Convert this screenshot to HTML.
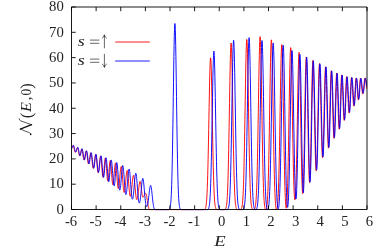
<!DOCTYPE html>
<html><head><meta charset="utf-8"><title>plot</title>
<style>html,body{margin:0;padding:0;background:#fff;width:374px;height:246px;overflow:hidden;font-family:"Liberation Serif",serif}</style>
</head><body>
<svg width="374" height="246" viewBox="0 0 374 246" style="position:absolute;left:0;top:0">
<rect width="374" height="246" fill="#fff"/>
<filter id="idf" x="0" y="0" width="374" height="246" filterUnits="userSpaceOnUse" color-interpolation-filters="sRGB"><feOffset dx="0" dy="0"/></filter>
<clipPath id="c"><rect x="71.5" y="0" width="295.5" height="210.5"/></clipPath>
<g clip-path="url(#c)" fill="none" stroke-width="0.93" stroke-linejoin="round">
<path d="M71.50,148.65 L71.70,148.19 L71.90,147.67 L72.10,147.13 L72.30,146.61 L72.50,146.16 L72.70,145.80 L72.90,145.58 L73.10,145.50 L73.30,145.64 L73.50,146.04 L73.70,146.68 L73.90,147.49 L74.10,148.42 L74.30,149.39 L74.50,150.31 L74.70,151.13 L74.90,151.76 L75.10,152.16 L75.30,152.30 L75.50,152.20 L75.70,151.92 L75.90,151.47 L76.10,150.90 L76.30,150.24 L76.50,149.56 L76.70,148.90 L76.90,148.33 L77.10,147.88 L77.30,147.60 L77.50,147.50 L77.70,147.68 L77.90,148.20 L78.10,149.01 L78.30,150.06 L78.50,151.24 L78.70,152.47 L78.90,153.62 L79.10,154.62 L79.30,155.36 L79.50,155.80 L79.70,155.89 L79.90,155.67 L80.10,155.17 L80.30,154.44 L80.50,153.53 L80.70,152.53 L80.90,151.52 L81.10,150.58 L81.30,149.79 L81.50,149.23 L81.70,148.94 L81.90,148.96 L82.10,149.41 L82.30,150.27 L82.50,151.48 L82.70,152.93 L82.90,154.50 L83.10,156.08 L83.30,157.53 L83.50,158.73 L83.70,159.59 L83.90,160.04 L84.10,160.05 L84.30,159.68 L84.50,158.98 L84.70,157.99 L84.90,156.80 L85.10,155.50 L85.30,154.21 L85.50,153.02 L85.70,152.03 L85.90,151.32 L86.10,150.95 L86.30,150.96 L86.50,151.44 L86.70,152.37 L86.90,153.68 L87.10,155.27 L87.30,157.01 L87.50,158.79 L87.70,160.47 L87.90,161.93 L88.10,163.05 L88.30,163.76 L88.50,164.00 L88.70,163.79 L88.90,163.19 L89.10,162.23 L89.30,160.98 L89.50,159.55 L89.70,158.03 L89.90,156.53 L90.10,155.18 L90.30,154.06 L90.50,153.26 L90.70,152.85 L90.90,152.86 L91.10,153.37 L91.30,154.36 L91.50,155.75 L91.70,157.47 L91.90,159.38 L92.10,161.38 L92.30,163.32 L92.50,165.08 L92.70,166.55 L92.90,167.63 L93.10,168.26 L93.30,168.39 L93.50,168.05 L93.70,167.28 L93.90,166.14 L94.10,164.68 L94.30,163.02 L94.50,161.25 L94.70,159.50 L94.90,157.87 L95.10,156.47 L95.30,155.40 L95.50,154.73 L95.70,154.50 L95.90,154.79 L96.10,155.66 L96.30,157.04 L96.50,158.84 L96.70,160.95 L96.90,163.22 L97.10,165.52 L97.30,167.69 L97.50,169.60 L97.70,171.12 L97.90,172.17 L98.10,172.66 L98.30,172.59 L98.50,171.99 L98.70,170.90 L98.90,169.40 L99.10,167.56 L99.30,165.53 L99.50,163.41 L99.70,161.35 L99.90,159.49 L100.10,157.93 L100.30,156.79 L100.50,156.14 L100.70,156.03 L100.90,156.62 L101.10,157.91 L101.30,159.83 L101.50,162.22 L101.70,164.93 L101.90,167.75 L102.10,170.50 L102.30,172.97 L102.50,175.00 L102.70,176.44 L102.90,177.20 L103.10,177.22 L103.30,176.56 L103.50,175.27 L103.70,173.45 L103.90,171.21 L104.10,168.72 L104.30,166.15 L104.50,163.69 L104.70,161.50 L104.90,159.74 L105.10,158.54 L105.30,157.99 L105.50,158.13 L105.70,159.02 L105.90,160.60 L106.10,162.76 L106.30,165.36 L106.50,168.24 L106.70,171.19 L106.90,174.04 L107.10,176.59 L107.30,178.68 L107.50,180.18 L107.70,180.98 L107.90,181.06 L108.10,180.45 L108.30,179.21 L108.50,177.43 L108.70,175.21 L108.90,172.70 L109.10,170.06 L109.30,167.46 L109.50,165.07 L109.70,163.06 L109.90,161.55 L110.10,160.64 L110.30,160.39 L110.50,160.85 L110.70,162.01 L110.90,163.79 L111.10,166.08 L111.30,168.76 L111.50,171.65 L111.70,174.60 L111.90,177.42 L112.10,179.96 L112.30,182.07 L112.50,183.63 L112.70,184.56 L112.90,184.80 L113.10,184.39 L113.30,183.37 L113.50,181.81 L113.70,179.79 L113.90,177.42 L114.10,174.85 L114.30,172.22 L114.50,169.69 L114.70,167.39 L114.90,165.48 L115.10,164.06 L115.30,163.23 L115.50,163.02 L115.70,163.45 L115.90,164.49 L116.10,166.08 L116.30,168.14 L116.50,170.56 L116.70,173.23 L116.90,176.01 L117.10,178.76 L117.30,181.36 L117.50,183.70 L117.70,185.65 L117.90,187.15 L118.10,188.13 L118.30,188.54 L118.50,188.40 L118.70,187.76 L118.90,186.65 L119.10,185.12 L119.30,183.23 L119.50,181.06 L119.70,178.73 L119.90,176.32 L120.10,173.96 L120.30,171.76 L120.50,169.83 L120.70,168.27 L120.90,167.17 L121.10,166.57 L121.30,166.51 L121.50,167.06 L121.70,168.18 L121.90,169.82 L122.10,171.91 L122.30,174.33 L122.50,176.97 L122.70,179.71 L122.90,182.43 L123.10,185.00 L123.30,187.31 L123.50,189.28 L123.70,190.82 L123.90,191.88 L124.10,192.41 L124.30,192.41 L124.50,191.93 L124.70,191.02 L124.90,189.69 L125.10,188.01 L125.30,186.03 L125.50,183.85 L125.70,181.55 L125.90,179.23 L126.10,177.00 L126.30,174.96 L126.50,173.21 L126.70,171.84 L126.90,170.91 L127.10,170.48 L127.30,170.57 L127.50,171.21 L127.70,172.36 L127.90,173.98 L128.10,175.99 L128.30,178.29 L128.50,180.78 L128.70,183.35 L128.90,185.90 L129.10,188.34 L129.30,190.56 L129.50,192.50 L129.70,194.10 L129.90,195.29 L130.10,196.05 L130.30,196.35 L130.50,196.22 L130.70,195.71 L130.90,194.85 L131.10,193.65 L131.30,192.15 L131.50,190.41 L131.70,188.47 L131.90,186.42 L132.10,184.32 L132.30,182.26 L132.50,180.34 L132.70,178.63 L132.90,177.21 L133.10,176.15 L133.30,175.50 L133.50,175.29 L133.70,175.55 L133.90,176.30 L134.10,177.49 L134.30,179.07 L134.50,180.96 L134.70,183.09 L134.90,185.36 L135.10,187.69 L135.30,189.98 L135.50,192.15 L135.70,194.14 L135.90,195.87 L136.10,197.32 L136.30,198.43 L136.50,199.18 L136.70,199.56 L136.90,199.56 L137.10,199.27 L137.30,198.69 L137.50,197.85 L137.70,196.75 L137.90,195.43 L138.10,193.93 L138.30,192.29 L138.50,190.57 L138.70,188.82 L138.90,187.11 L139.10,185.51 L139.30,184.09 L139.50,182.92 L139.70,182.03 L139.90,181.49 L140.10,181.30 L140.30,181.51 L140.50,182.12 L140.70,183.09 L140.90,184.39 L141.10,185.93 L141.30,187.64 L141.50,189.43 L141.70,191.20 L141.90,192.87 L142.10,194.37 L142.30,195.60 L142.50,196.53 L142.70,197.11 L142.90,197.30 L143.10,197.25 L143.30,197.11 L143.50,196.88 L143.70,196.57 L143.90,196.19 L144.10,195.78 L144.30,195.33 L144.50,194.89 L144.70,194.46 L144.90,194.07 L145.10,193.75 L145.30,193.50 L145.50,193.35 L145.70,193.30 L145.90,193.44 L146.10,193.86 L146.30,194.53 L146.50,195.42 L146.70,196.50 L146.90,197.72 L147.10,199.04 L147.30,200.39 L147.50,201.75 L147.70,203.06 L147.90,204.30 L148.10,205.43 L148.30,206.44 L148.50,207.31 L148.70,208.09 L148.90,208.73 L149.10,209.21 L149.30,209.52 L149.50,209.68 L149.70,209.70 L149.90,209.70 L150.10,209.70 L150.30,209.70 L150.50,209.70 L150.70,209.70 L150.90,209.70 L151.10,209.70 L151.30,209.70 L151.50,209.70 L151.70,209.70 L151.90,209.70 L152.10,209.70 L152.30,209.70 L152.50,209.70 L152.70,209.70 L152.90,209.70 L153.10,209.70 L153.30,209.70 L153.50,209.70 L153.70,209.70 L153.90,209.70 L154.10,209.70 L154.30,209.70 L154.50,209.70 L154.70,209.70 L154.90,209.70 L155.10,209.70 L155.30,209.70 L155.50,209.70 L155.70,209.70 L155.90,209.70 L156.10,209.70 L156.30,209.70 L156.50,209.70 L156.70,209.70 L156.90,209.70 L157.10,209.70 L157.30,209.70 L157.50,209.70 L157.70,209.70 L157.90,209.70 L158.10,209.70 L158.30,209.70 L158.50,209.70 L158.70,209.70 L158.90,209.70 L159.10,209.70 L159.30,209.70 L159.50,209.70 L159.70,209.70 L159.90,209.70 L160.10,209.70 L160.30,209.70 L160.50,209.70 L160.70,209.70 L160.90,209.70 L161.10,209.70 L161.30,209.70 L161.50,209.70 L161.70,209.70 L161.90,209.70 L162.10,209.70 L162.30,209.70 L162.50,209.70 L162.70,209.70 L162.90,209.70 L163.10,209.70 L163.30,209.70 L163.50,209.70 L163.70,209.70 L163.90,209.70 L164.10,209.70 L164.30,209.70 L164.50,209.70 L164.70,209.70 L164.90,209.70 L165.10,209.70 L165.30,209.70 L165.50,209.70 L165.70,209.70 L165.90,209.70 L166.10,209.70 L166.30,209.70 L166.50,209.70 L166.70,209.70 L166.90,209.70 L167.10,209.70 L167.30,209.70 L167.50,209.70 L167.70,209.70 L167.90,209.70 L168.10,209.70 L168.30,209.70 L168.50,209.70 L168.70,209.70 L168.90,209.70 L169.10,209.70 L169.30,209.70 L169.50,209.70 L169.70,209.70 L169.90,209.70 L170.10,209.70 L170.30,209.70 L170.50,209.70 L170.70,209.70 L170.90,209.70 L171.10,209.70 L171.30,209.70 L171.50,209.70 L171.70,209.70 L171.90,209.70 L172.10,209.70 L172.30,209.70 L172.50,209.70 L172.70,209.70 L172.90,209.70 L173.10,209.70 L173.30,209.70 L173.50,209.70 L173.70,209.70 L173.90,209.70 L174.10,209.70 L174.30,209.70 L174.50,209.70 L174.70,209.70 L174.90,209.70 L175.10,209.70 L175.30,209.70 L175.50,209.70 L175.70,209.70 L175.90,209.70 L176.10,209.70 L176.30,209.70 L176.50,209.70 L176.70,209.70 L176.90,209.70 L177.10,209.70 L177.30,209.70 L177.50,209.70 L177.70,209.70 L177.90,209.70 L178.10,209.70 L178.30,209.70 L178.50,209.70 L178.70,209.70 L178.90,209.70 L179.10,209.70 L179.30,209.70 L179.50,209.70 L179.70,209.70 L179.90,209.70 L180.10,209.70 L180.30,209.70 L180.50,209.70 L180.70,209.70 L180.90,209.70 L181.10,209.70 L181.30,209.70 L181.50,209.70 L181.70,209.70 L181.90,209.70 L182.10,209.70 L182.30,209.70 L182.50,209.70 L182.70,209.70 L182.90,209.70 L183.10,209.70 L183.30,209.70 L183.50,209.70 L183.70,209.70 L183.90,209.70 L184.10,209.70 L184.30,209.70 L184.50,209.70 L184.70,209.70 L184.90,209.70 L185.10,209.70 L185.30,209.70 L185.50,209.70 L185.70,209.70 L185.90,209.70 L186.10,209.70 L186.30,209.70 L186.50,209.70 L186.70,209.70 L186.90,209.70 L187.10,209.70 L187.30,209.70 L187.50,209.70 L187.70,209.70 L187.90,209.70 L188.10,209.70 L188.30,209.70 L188.50,209.70 L188.70,209.70 L188.90,209.70 L189.10,209.70 L189.30,209.70 L189.50,209.70 L189.70,209.70 L189.90,209.70 L190.10,209.70 L190.30,209.70 L190.50,209.70 L190.70,209.70 L190.90,209.70 L191.10,209.70 L191.30,209.70 L191.50,209.70 L191.70,209.70 L191.90,209.70 L192.10,209.70 L192.30,209.70 L192.50,209.70 L192.70,209.70 L192.90,209.70 L193.10,209.70 L193.30,209.70 L193.50,209.70 L193.70,209.70 L193.90,209.70 L194.10,209.70 L194.30,209.70 L194.50,209.70 L194.70,209.70 L194.90,209.70 L195.10,209.70 L195.30,209.70 L195.50,209.70 L195.70,209.70 L195.90,209.70 L196.10,209.70 L196.30,209.70 L196.50,209.70 L196.70,209.70 L196.90,209.70 L197.10,209.70 L197.30,209.70 L197.50,209.70 L197.70,209.70 L197.90,209.70 L198.10,209.70 L198.30,209.70 L198.50,209.70 L198.70,209.70 L198.90,209.70 L199.10,209.70 L199.30,209.70 L199.50,209.70 L199.70,209.70 L199.90,209.70 L200.10,209.70 L200.30,209.70 L200.50,209.70 L200.70,209.70 L200.90,209.70 L201.10,209.70 L201.30,209.70 L201.50,209.70 L201.70,209.70 L201.90,209.70 L202.10,209.70 L202.30,209.70 L202.50,209.70 L202.70,209.70 L202.90,209.70 L203.10,209.69 L203.30,209.69 L203.50,209.68 L203.70,209.66 L203.90,209.64 L204.10,209.61 L204.30,209.55 L204.50,209.47 L204.70,209.35 L204.90,209.17 L205.10,208.91 L205.30,208.55 L205.50,208.03 L205.70,207.34 L205.90,206.47 L206.10,205.30 L206.30,203.76 L206.50,201.77 L206.70,199.24 L206.90,196.06 L207.10,192.16 L207.30,187.44 L207.50,181.82 L207.70,175.26 L207.90,167.75 L208.10,159.30 L208.30,149.99 L208.50,139.96 L208.70,129.37 L208.90,118.46 L209.10,107.54 L209.30,96.90 L209.50,86.91 L209.70,77.91 L209.90,70.23 L210.10,64.18 L210.30,60.00 L210.50,57.87 L210.70,57.87 L210.90,60.00 L211.10,64.18 L211.30,70.23 L211.50,77.91 L211.70,86.91 L211.90,96.90 L212.10,107.54 L212.30,118.46 L212.50,129.37 L212.70,139.96 L212.90,149.99 L213.10,159.30 L213.30,167.75 L213.50,175.26 L213.70,181.82 L213.90,187.43 L214.10,192.16 L214.30,196.06 L214.50,199.24 L214.70,201.77 L214.90,203.76 L215.10,205.30 L215.30,206.47 L215.50,207.34 L215.70,208.03 L215.90,208.55 L216.10,208.91 L216.30,209.17 L216.50,209.35 L216.70,209.47 L216.90,209.55 L217.10,209.61 L217.30,209.64 L217.50,209.66 L217.70,209.68 L217.90,209.69 L218.10,209.69 L218.30,209.70 L218.50,209.70 L218.70,209.70 L218.90,209.70 L219.10,209.70 L219.30,209.70 L219.50,209.70 L219.70,209.70 L219.90,209.70 L220.10,209.70 L220.30,209.70 L220.50,209.70 L220.70,209.70 L220.90,209.70 L221.10,209.70 L221.30,209.70 L221.50,209.70 L221.70,209.70 L221.90,209.70 L222.10,209.70 L222.30,209.70 L222.50,209.70 L222.70,209.70 L222.90,209.70 L223.10,209.70 L223.30,209.70 L223.50,209.69 L223.70,209.69 L223.90,209.68 L224.10,209.67 L224.30,209.65 L224.50,209.62 L224.70,209.57 L224.90,209.50 L225.10,209.39 L225.30,209.23 L225.50,208.99 L225.70,208.65 L225.90,208.18 L226.10,207.52 L226.30,206.69 L226.50,205.58 L226.70,204.11 L226.90,202.18 L227.10,199.72 L227.30,196.60 L227.50,192.74 L227.70,188.02 L227.90,182.36 L228.10,175.70 L228.30,167.98 L228.50,159.23 L228.70,149.49 L228.90,138.86 L229.10,127.53 L229.30,115.71 L229.50,103.71 L229.70,91.84 L229.90,80.49 L230.10,70.03 L230.30,60.85 L230.50,53.29 L230.70,47.65 L230.90,44.18 L231.10,43.00 L231.30,44.18 L231.50,47.65 L231.70,53.29 L231.90,60.85 L232.10,70.03 L232.30,80.49 L232.50,91.84 L232.70,103.71 L232.90,115.72 L233.10,127.53 L233.30,138.87 L233.50,149.49 L233.70,159.23 L233.90,167.99 L234.10,175.70 L234.30,182.37 L234.50,188.03 L234.70,192.74 L234.90,196.61 L235.10,199.72 L235.30,202.19 L235.50,204.11 L235.70,205.58 L235.90,206.70 L236.10,207.52 L236.30,208.18 L236.50,208.66 L236.70,209.00 L236.90,209.23 L237.10,209.40 L237.30,209.50 L237.50,209.58 L237.70,209.63 L237.90,209.66 L238.10,209.68 L238.30,209.69 L238.50,209.69 L238.70,209.70 L238.90,209.70 L239.10,209.70 L239.30,209.70 L239.50,209.69 L239.70,209.68 L239.90,209.67 L240.10,209.64 L240.30,209.60 L240.50,209.54 L240.70,209.45 L240.90,209.31 L241.10,209.11 L241.30,208.83 L241.50,208.41 L241.70,207.84 L241.90,207.09 L242.10,206.10 L242.30,204.79 L242.50,203.07 L242.70,200.84 L242.90,198.00 L243.10,194.44 L243.30,190.06 L243.50,184.77 L243.70,178.47 L243.90,171.12 L244.10,162.69 L244.30,153.22 L244.50,142.79 L244.70,131.53 L244.90,119.66 L245.10,107.44 L245.30,95.19 L245.50,83.26 L245.70,72.06 L245.90,61.97 L246.10,53.36 L246.30,46.58 L246.50,41.89 L246.70,39.50 L246.90,39.50 L247.10,41.90 L247.30,46.58 L247.50,53.37 L247.70,61.98 L247.90,72.08 L248.10,83.30 L248.30,95.23 L248.50,107.49 L248.70,119.72 L248.90,131.60 L249.10,142.87 L249.30,153.31 L249.50,162.79 L249.70,171.22 L249.90,178.58 L250.10,184.88 L250.30,190.18 L250.50,194.56 L250.70,198.12 L250.90,200.96 L251.10,203.19 L251.30,204.92 L251.50,206.23 L251.70,207.21 L251.90,207.98 L252.10,208.55 L252.30,208.96 L252.50,209.25 L252.70,209.44 L252.90,209.57 L253.10,209.65 L253.30,209.69 L253.50,209.70 L253.70,209.68 L253.90,209.62 L254.10,209.51 L254.30,209.35 L254.50,209.11 L254.70,208.76 L254.90,208.27 L255.10,207.58 L255.30,206.72 L255.50,205.56 L255.70,204.03 L255.90,202.04 L256.10,199.48 L256.30,196.24 L256.50,192.23 L256.70,187.33 L256.90,181.45 L257.10,174.53 L257.30,166.51 L257.50,157.42 L257.70,147.30 L257.90,136.27 L258.10,124.50 L258.30,112.23 L258.50,99.75 L258.70,87.43 L258.90,75.64 L259.10,64.78 L259.30,55.24 L259.50,47.38 L259.70,41.53 L259.90,37.92 L260.10,36.70 L260.30,37.93 L260.50,41.56 L260.70,47.45 L260.90,55.35 L261.10,64.95 L261.30,75.88 L261.50,87.75 L261.70,100.15 L261.90,112.70 L262.10,125.04 L262.30,136.89 L262.50,147.99 L262.70,158.18 L262.90,167.33 L263.10,175.39 L263.30,182.35 L263.50,188.27 L263.70,193.19 L263.90,197.23 L264.10,200.48 L264.30,203.05 L264.50,205.04 L264.70,206.56 L264.90,207.70 L265.10,208.59 L265.30,209.19 L265.50,209.55 L265.70,209.69 L265.90,209.65 L266.10,209.40 L266.30,208.93 L266.50,208.21 L266.70,207.20 L266.90,205.92 L267.10,204.20 L267.30,201.97 L267.50,199.13 L267.70,195.56 L267.90,191.16 L268.10,185.84 L268.30,179.52 L268.50,172.13 L268.70,163.67 L268.90,154.15 L269.10,143.67 L269.30,132.36 L269.50,120.44 L269.70,108.16 L269.90,95.85 L270.10,83.87 L270.30,72.61 L270.50,62.47 L270.70,53.83 L270.90,47.01 L271.10,42.31 L271.30,39.90 L271.50,39.91 L271.70,42.33 L271.90,47.08 L272.10,53.97 L272.30,62.70 L272.50,72.93 L272.70,84.30 L272.90,96.40 L273.10,108.83 L273.30,121.23 L273.50,133.27 L273.70,144.69 L273.90,155.27 L274.10,164.88 L274.30,173.42 L274.50,180.87 L274.70,187.25 L274.90,192.61 L275.10,197.03 L275.30,200.60 L275.50,203.43 L275.70,205.60 L275.90,207.23 L276.10,208.46 L276.30,209.26 L276.50,209.65 L276.70,209.65 L276.90,209.28 L277.10,208.50 L277.30,207.29 L277.50,205.71 L277.70,203.60 L277.90,200.85 L278.10,197.38 L278.30,193.09 L278.50,187.88 L278.70,181.68 L278.90,174.44 L279.10,166.14 L279.30,156.80 L279.50,146.52 L279.70,135.42 L279.90,123.72 L280.10,111.67 L280.30,99.59 L280.50,87.84 L280.70,76.79 L280.90,66.84 L281.10,58.36 L281.30,51.67 L281.50,47.06 L281.70,44.70 L281.90,44.71 L282.10,47.16 L282.30,51.95 L282.50,58.89 L282.70,67.69 L282.90,78.01 L283.10,89.47 L283.30,101.67 L283.50,114.20 L283.70,126.69 L283.90,138.82 L284.10,150.30 L284.30,160.93 L284.50,170.55 L284.70,179.07 L284.90,186.44 L285.10,192.65 L285.30,197.75 L285.50,201.78 L285.70,204.79 L285.90,206.83 L286.10,207.99 L286.30,208.24 L286.50,207.52 L286.70,205.97 L286.90,203.50 L287.10,200.06 L287.30,195.59 L287.50,190.05 L287.70,183.39 L287.90,175.60 L288.10,166.70 L288.30,156.76 L288.50,145.90 L288.70,134.29 L288.90,122.18 L289.10,109.87 L289.30,97.71 L289.50,86.06 L289.70,75.33 L289.90,65.91 L290.10,58.15 L290.30,52.37 L290.50,48.81 L290.70,47.60 L290.90,48.78 L291.10,52.27 L291.30,57.91 L291.50,65.49 L291.70,74.70 L291.90,85.18 L292.10,96.55 L292.30,108.43 L292.50,120.45 L292.70,132.25 L292.90,143.55 L293.10,154.10 L293.30,163.73 L293.50,172.29 L293.70,179.72 L293.90,185.97 L294.10,191.04 L294.30,194.95 L294.50,197.71 L294.70,199.35 L294.90,199.90 L295.10,199.37 L295.30,197.78 L295.50,195.10 L295.70,191.31 L295.90,186.40 L296.10,180.34 L296.30,173.14 L296.50,164.84 L296.70,155.52 L296.90,145.29 L297.10,134.34 L297.30,122.90 L297.50,111.26 L297.70,99.74 L297.90,88.72 L298.10,78.56 L298.30,69.64 L298.50,62.30 L298.70,56.82 L298.90,53.44 L299.10,52.30 L299.30,53.54 L299.50,57.22 L299.70,63.18 L299.90,71.17 L300.10,80.86 L300.30,91.86 L300.50,103.77 L300.70,116.14 L300.90,128.57 L301.10,140.66 L301.30,152.06 L301.50,162.47 L301.70,171.64 L301.90,179.38 L302.10,185.53 L302.30,189.99 L302.50,192.69 L302.70,193.60 L302.90,192.72 L303.10,190.11 L303.30,185.80 L303.50,179.85 L303.70,172.37 L303.90,163.51 L304.10,153.44 L304.30,142.42 L304.50,130.73 L304.70,118.72 L304.90,106.75 L305.10,95.24 L305.30,84.61 L305.50,75.24 L305.70,67.52 L305.90,61.76 L306.10,58.20 L306.30,57.00 L306.50,58.23 L306.70,61.88 L306.90,67.78 L307.10,75.67 L307.30,85.22 L307.50,96.02 L307.70,107.63 L307.90,119.61 L308.10,131.51 L308.30,142.89 L308.50,153.38 L308.70,162.64 L308.90,170.38 L309.10,176.38 L309.30,180.47 L309.50,182.54 L309.70,182.55 L309.90,180.53 L310.10,176.55 L310.30,170.72 L310.50,163.20 L310.70,154.20 L310.90,144.00 L311.10,132.93 L311.30,121.37 L311.50,109.73 L311.70,98.43 L311.90,87.93 L312.10,78.65 L312.30,70.98 L312.50,65.25 L312.70,61.70 L312.90,60.50 L313.10,61.58 L313.30,64.79 L313.50,69.97 L313.70,76.90 L313.90,85.29 L314.10,94.77 L314.30,104.98 L314.50,115.50 L314.70,125.95 L314.90,135.95 L315.10,145.16 L315.30,153.29 L315.50,160.09 L315.70,165.36 L315.90,168.95 L316.10,170.77 L316.30,170.78 L316.50,169.01 L316.70,165.52 L316.90,160.39 L317.10,153.79 L317.30,145.88 L317.50,136.93 L317.70,127.21 L317.90,117.06 L318.10,106.83 L318.30,96.91 L318.50,87.69 L318.70,79.54 L318.90,72.80 L319.10,67.77 L319.30,64.65 L319.50,63.60 L319.70,64.64 L319.90,67.71 L320.10,72.67 L320.30,79.27 L320.50,87.23 L320.70,96.17 L320.90,105.69 L321.10,115.38 L321.30,124.84 L321.50,133.66 L321.70,141.49 L321.90,148.04 L322.10,153.04 L322.30,156.32 L322.50,157.74 L322.70,157.28 L322.90,155.00 L323.10,150.97 L323.30,145.35 L323.50,138.36 L323.70,130.26 L323.90,121.36 L324.10,112.05 L324.30,102.69 L324.50,93.71 L324.70,85.48 L324.90,78.39 L325.10,72.76 L325.30,68.85 L325.50,66.85 L325.70,66.85 L325.90,68.86 L326.10,72.77 L326.30,78.39 L326.50,85.42 L326.70,93.51 L326.90,102.26 L327.10,111.24 L327.30,120.01 L327.50,128.16 L327.70,135.29 L327.90,141.08 L328.10,145.27 L328.30,147.66 L328.50,148.14 L328.70,146.77 L328.90,143.63 L329.10,138.87 L329.30,132.69 L329.50,125.39 L329.70,117.31 L329.90,108.83 L330.10,100.36 L330.30,92.31 L330.50,85.09 L330.70,79.04 L330.90,74.49 L331.10,71.66 L331.30,70.70 L331.50,71.63 L331.70,74.35 L331.90,78.72 L332.10,84.50 L332.30,91.36 L332.50,98.93 L332.70,106.79 L332.90,114.52 L333.10,121.71 L333.30,127.98 L333.50,132.99 L333.70,136.48 L333.90,138.27 L334.10,138.28 L334.30,136.55 L334.50,133.18 L334.70,128.35 L334.90,122.31 L335.10,115.37 L335.30,107.91 L335.50,100.33 L335.70,93.03 L335.90,86.41 L336.10,80.84 L336.30,76.62 L336.50,73.99 L336.70,73.10 L336.90,73.99 L337.10,76.60 L337.30,80.76 L337.50,86.22 L337.70,92.61 L337.90,99.55 L338.10,106.59 L338.30,113.29 L338.50,119.24 L338.70,124.05 L338.90,127.43 L339.10,129.18 L339.30,129.19 L339.50,127.50 L339.70,124.22 L339.90,119.56 L340.10,113.81 L340.30,107.32 L340.50,100.51 L340.70,93.79 L340.90,87.60 L341.10,82.32 L341.30,78.29 L341.50,75.76 L341.70,74.90 L341.90,75.62 L342.10,77.74 L342.30,81.12 L342.50,85.55 L342.70,90.74 L342.90,96.37 L343.10,102.09 L343.30,107.53 L343.50,112.35 L343.70,116.26 L343.90,119.00 L344.10,120.42 L344.30,120.43 L344.50,119.06 L344.70,116.42 L344.90,112.66 L345.10,108.01 L345.30,102.78 L345.50,97.27 L345.70,91.85 L345.90,86.85 L346.10,82.59 L346.30,79.33 L346.50,77.29 L346.70,76.60 L346.90,77.22 L347.10,79.05 L347.30,81.96 L347.50,85.74 L347.70,90.15 L347.90,94.88 L348.10,99.60 L348.30,103.99 L348.50,107.77 L348.70,110.66 L348.90,112.48 L349.10,113.10 L349.30,112.49 L349.50,110.71 L349.70,107.88 L349.90,104.19 L350.10,99.89 L350.30,95.28 L350.50,90.65 L350.70,86.34 L350.90,82.64 L351.10,79.80 L351.30,78.01 L351.50,77.40 L351.70,77.91 L351.90,79.41 L352.10,81.80 L352.30,84.89 L352.50,88.48 L352.70,92.30 L352.90,96.08 L353.10,99.56 L353.30,102.49 L353.50,104.66 L353.70,105.91 L353.90,106.17 L354.10,105.42 L354.30,103.72 L354.50,101.19 L354.70,98.02 L354.90,94.42 L355.10,90.65 L355.30,86.98 L355.50,83.67 L355.70,80.95 L355.90,79.03 L356.10,78.03 L356.30,78.02 L356.50,78.95 L356.70,80.73 L356.90,83.22 L357.10,86.19 L357.30,89.41 L357.50,92.59 L357.70,95.46 L357.90,97.79 L358.10,99.37 L358.30,100.07 L358.50,99.84 L358.70,98.69 L358.90,96.74 L359.10,94.13 L359.30,91.10 L359.50,87.90 L359.70,84.80 L359.90,82.07 L360.10,79.93 L360.30,78.57 L360.50,78.10 L360.70,78.41 L360.90,79.32 L361.10,80.75 L361.30,82.60 L361.50,84.71 L361.70,86.94 L361.90,89.10 L362.10,91.03 L362.30,92.57 L362.50,93.62 L362.70,94.08 L362.90,93.92 L363.10,93.15 L363.30,91.83 L363.50,90.05 L363.70,87.96 L363.90,85.72 L364.10,83.50 L364.30,81.47 L364.50,79.80 L364.70,78.60 L364.90,77.98 L365.10,77.96 L365.30,78.44 L365.50,79.36 L365.70,80.63 L365.90,82.16 L366.10,83.81 L366.30,85.44 L366.50,86.92 L366.70,88.11 L366.90,88.92" stroke="#f00"/>
<path d="M71.50,148.93 L71.70,148.64 L71.90,148.23 L72.10,147.74 L72.30,147.20 L72.50,146.67 L72.70,146.17 L72.90,145.76 L73.10,145.47 L73.30,145.32 L73.50,145.33 L73.70,145.58 L73.90,146.06 L74.10,146.74 L74.30,147.57 L74.50,148.47 L74.70,149.40 L74.90,150.27 L75.10,151.02 L75.30,151.61 L75.50,151.97 L75.70,152.10 L75.90,151.99 L76.10,151.68 L76.30,151.20 L76.50,150.58 L76.70,149.88 L76.90,149.17 L77.10,148.50 L77.30,147.94 L77.50,147.54 L77.70,147.33 L77.90,147.34 L78.10,147.68 L78.30,148.33 L78.50,149.23 L78.70,150.32 L78.90,151.50 L79.10,152.69 L79.30,153.77 L79.50,154.68 L79.70,155.32 L79.90,155.66 L80.10,155.66 L80.30,155.35 L80.50,154.77 L80.70,153.95 L80.90,152.98 L81.10,151.94 L81.30,150.92 L81.50,150.02 L81.70,149.31 L81.90,148.86 L82.10,148.70 L82.30,148.91 L82.50,149.52 L82.70,150.48 L82.90,151.73 L83.10,153.17 L83.30,154.69 L83.50,156.18 L83.70,157.54 L83.90,158.65 L84.10,159.44 L84.30,159.85 L84.50,159.85 L84.70,159.44 L84.90,158.67 L85.10,157.60 L85.30,156.33 L85.50,154.96 L85.70,153.62 L85.90,152.43 L86.10,151.50 L86.30,150.90 L86.50,150.70 L86.70,150.91 L86.90,151.52 L87.10,152.49 L87.30,153.76 L87.50,155.25 L87.70,156.87 L87.90,158.51 L88.10,160.06 L88.30,161.44 L88.50,162.56 L88.70,163.34 L88.90,163.75 L89.10,163.74 L89.30,163.25 L89.50,162.31 L89.70,161.00 L89.90,159.45 L90.10,157.78 L90.30,156.16 L90.50,154.71 L90.70,153.57 L90.90,152.85 L91.10,152.60 L91.30,152.83 L91.50,153.51 L91.70,154.59 L91.90,156.01 L92.10,157.68 L92.30,159.52 L92.50,161.40 L92.70,163.22 L92.90,164.87 L93.10,166.26 L93.30,167.32 L93.50,167.98 L93.70,168.20 L93.90,167.94 L94.10,167.19 L94.30,166.00 L94.50,164.46 L94.70,162.67 L94.90,160.79 L95.10,158.93 L95.30,157.25 L95.50,155.86 L95.70,154.88 L95.90,154.36 L96.10,154.38 L96.30,155.00 L96.50,156.19 L96.70,157.88 L96.90,159.94 L97.10,162.24 L97.30,164.61 L97.50,166.90 L97.70,168.96 L97.90,170.63 L98.10,171.81 L98.30,172.42 L98.50,172.44 L98.70,171.97 L98.90,171.04 L99.10,169.72 L99.30,168.08 L99.50,166.21 L99.70,164.21 L99.90,162.21 L100.10,160.32 L100.30,158.65 L100.50,157.30 L100.70,156.35 L100.90,155.86 L101.10,155.89 L101.30,156.57 L101.50,157.88 L101.70,159.75 L101.90,162.04 L102.10,164.62 L102.30,167.33 L102.50,169.98 L102.70,172.42 L102.90,174.50 L103.10,176.08 L103.30,177.06 L103.50,177.40 L103.70,177.09 L103.90,176.19 L104.10,174.75 L104.30,172.86 L104.50,170.64 L104.70,168.21 L104.90,165.75 L105.10,163.39 L105.30,161.30 L105.50,159.60 L105.70,158.40 L105.90,157.78 L106.10,157.78 L106.30,158.39 L106.50,159.59 L106.70,161.31 L106.90,163.45 L107.10,165.91 L107.30,168.54 L107.50,171.23 L107.70,173.83 L107.90,176.22 L108.10,178.28 L108.30,179.91 L108.50,181.05 L108.70,181.63 L108.90,181.61 L109.10,180.88 L109.30,179.47 L109.50,177.47 L109.70,175.03 L109.90,172.30 L110.10,169.46 L110.30,166.72 L110.50,164.26 L110.70,162.25 L110.90,160.83 L111.10,160.09 L111.30,160.08 L111.50,160.67 L111.70,161.83 L111.90,163.50 L112.10,165.59 L112.30,168.00 L112.50,170.63 L112.70,173.33 L112.90,176.01 L113.10,178.54 L113.30,180.81 L113.50,182.75 L113.70,184.26 L113.90,185.30 L114.10,185.83 L114.30,185.81 L114.50,185.08 L114.70,183.67 L114.90,181.67 L115.10,179.20 L115.30,176.40 L115.50,173.47 L115.70,170.57 L115.90,167.89 L116.10,165.61 L116.30,163.87 L116.50,162.77 L116.70,162.40 L116.90,162.71 L117.10,163.61 L117.30,165.07 L117.50,167.01 L117.70,169.34 L117.90,171.95 L118.10,174.72 L118.30,177.54 L118.50,180.29 L118.70,182.86 L118.90,185.14 L119.10,187.07 L119.30,188.58 L119.50,189.61 L119.70,190.13 L119.90,190.14 L120.10,189.63 L120.30,188.64 L120.50,187.19 L120.70,185.35 L120.90,183.18 L121.10,180.77 L121.30,178.22 L121.50,175.63 L121.70,173.13 L121.90,170.83 L122.10,168.84 L122.30,167.25 L122.50,166.14 L122.70,165.57 L122.90,165.58 L123.10,166.22 L123.30,167.47 L123.50,169.26 L123.70,171.52 L123.90,174.13 L124.10,176.97 L124.30,179.92 L124.50,182.86 L124.70,185.67 L124.90,188.23 L125.10,190.46 L125.30,192.27 L125.50,193.60 L125.70,194.42 L125.90,194.70 L126.10,194.48 L126.30,193.81 L126.50,192.73 L126.70,191.25 L126.90,189.43 L127.10,187.31 L127.30,184.97 L127.50,182.48 L127.70,179.95 L127.90,177.48 L128.10,175.15 L128.30,173.08 L128.50,171.36 L128.70,170.07 L128.90,169.27 L129.10,169.00 L129.30,169.31 L129.50,170.21 L129.70,171.67 L129.90,173.62 L130.10,175.96 L130.30,178.60 L130.50,181.42 L130.70,184.31 L130.90,187.16 L131.10,189.87 L131.30,192.35 L131.50,194.52 L131.70,196.32 L131.90,197.72 L132.10,198.66 L132.30,199.14 L132.50,199.15 L132.70,198.78 L132.90,198.03 L133.10,196.93 L133.30,195.49 L133.50,193.75 L133.70,191.75 L133.90,189.53 L134.10,187.18 L134.30,184.76 L134.50,182.36 L134.70,180.07 L134.90,177.98 L135.10,176.18 L135.30,174.76 L135.50,173.77 L135.70,173.26 L135.90,173.27 L136.10,173.84 L136.30,174.94 L136.50,176.53 L136.70,178.53 L136.90,180.86 L137.10,183.43 L137.30,186.11 L137.50,188.83 L137.70,191.49 L137.90,193.99 L138.10,196.28 L138.30,198.29 L138.50,199.99 L138.70,201.34 L138.90,202.31 L139.10,202.90 L139.30,203.10 L139.50,202.94 L139.70,202.45 L139.90,201.64 L140.10,200.53 L140.30,199.13 L140.50,197.47 L140.70,195.58 L140.90,193.51 L141.10,191.31 L141.30,189.07 L141.50,186.85 L141.70,184.73 L141.90,182.80 L142.10,181.15 L142.30,179.84 L142.50,178.93 L142.70,178.46 L142.90,178.46 L143.10,178.95 L143.30,179.90 L143.50,181.28 L143.70,183.01 L143.90,185.03 L144.10,187.26 L144.30,189.60 L144.50,191.98 L144.70,194.32 L144.90,196.55 L145.10,198.63 L145.30,200.50 L145.50,202.14 L145.70,203.54 L145.90,204.69 L146.10,205.57 L146.30,206.20 L146.50,206.58 L146.70,206.70 L146.90,206.61 L147.10,206.32 L147.30,205.85 L147.50,205.18 L147.70,204.32 L147.90,203.27 L148.10,202.03 L148.30,200.62 L148.50,199.06 L148.70,197.38 L148.90,195.62 L149.10,193.83 L149.30,192.07 L149.50,190.39 L149.70,188.87 L149.90,187.57 L150.10,186.53 L150.30,185.81 L150.50,185.45 L150.70,185.45 L150.90,185.84 L151.10,186.60 L151.30,187.70 L151.50,189.09 L151.70,190.71 L151.90,192.50 L152.10,194.38 L152.30,196.29 L152.50,198.17 L152.70,199.98 L152.90,201.66 L153.10,203.19 L153.30,204.55 L153.50,205.74 L153.70,206.74 L153.90,207.58 L154.10,208.31 L154.30,208.88 L154.50,209.29 L154.70,209.55 L154.90,209.68 L155.10,209.70 L155.30,209.70 L155.50,209.70 L155.70,209.70 L155.90,209.70 L156.10,209.70 L156.30,209.70 L156.50,209.70 L156.70,209.70 L156.90,209.70 L157.10,209.70 L157.30,209.70 L157.50,209.70 L157.70,209.70 L157.90,209.70 L158.10,209.70 L158.30,209.70 L158.50,209.70 L158.70,209.70 L158.90,209.70 L159.10,209.70 L159.30,209.70 L159.50,209.70 L159.70,209.70 L159.90,209.70 L160.10,209.70 L160.30,209.70 L160.50,209.70 L160.70,209.70 L160.90,209.70 L161.10,209.70 L161.30,209.70 L161.50,209.70 L161.70,209.70 L161.90,209.70 L162.10,209.70 L162.30,209.70 L162.50,209.70 L162.70,209.70 L162.90,209.70 L163.10,209.70 L163.30,209.70 L163.50,209.70 L163.70,209.70 L163.90,209.70 L164.10,209.70 L164.30,209.70 L164.50,209.70 L164.70,209.70 L164.90,209.70 L165.10,209.70 L165.30,209.70 L165.50,209.70 L165.70,209.70 L165.90,209.70 L166.10,209.70 L166.30,209.70 L166.50,209.70 L166.70,209.70 L166.90,209.70 L167.10,209.70 L167.30,209.70 L167.50,209.70 L167.70,209.69 L167.90,209.69 L168.10,209.68 L168.30,209.66 L168.50,209.63 L168.70,209.59 L168.90,209.52 L169.10,209.41 L169.30,209.25 L169.50,209.01 L169.70,208.66 L169.90,208.15 L170.10,207.44 L170.30,206.52 L170.50,205.26 L170.70,203.57 L170.90,201.33 L171.10,198.42 L171.30,194.70 L171.50,190.05 L171.70,184.33 L171.90,177.43 L172.10,169.28 L172.30,159.83 L172.50,149.12 L172.70,137.23 L172.90,124.34 L173.10,110.72 L173.30,96.69 L173.50,82.66 L173.70,69.10 L173.90,56.50 L174.10,45.36 L174.30,36.13 L174.50,29.22 L174.70,24.95 L174.90,23.50 L175.10,24.95 L175.30,29.22 L175.50,36.13 L175.70,45.36 L175.90,56.50 L176.10,69.10 L176.30,82.66 L176.50,96.69 L176.70,110.72 L176.90,124.34 L177.10,137.23 L177.30,149.12 L177.50,159.83 L177.70,169.28 L177.90,177.43 L178.10,184.33 L178.30,190.05 L178.50,194.70 L178.70,198.42 L178.90,201.33 L179.10,203.57 L179.30,205.26 L179.50,206.52 L179.70,207.44 L179.90,208.15 L180.10,208.66 L180.30,209.01 L180.50,209.25 L180.70,209.41 L180.90,209.52 L181.10,209.59 L181.30,209.63 L181.50,209.66 L181.70,209.68 L181.90,209.69 L182.10,209.69 L182.30,209.70 L182.50,209.70 L182.70,209.70 L182.90,209.70 L183.10,209.70 L183.30,209.70 L183.50,209.70 L183.70,209.70 L183.90,209.70 L184.10,209.70 L184.30,209.70 L184.50,209.70 L184.70,209.70 L184.90,209.70 L185.10,209.70 L185.30,209.70 L185.50,209.70 L185.70,209.70 L185.90,209.70 L186.10,209.70 L186.30,209.70 L186.50,209.70 L186.70,209.70 L186.90,209.70 L187.10,209.70 L187.30,209.70 L187.50,209.70 L187.70,209.70 L187.90,209.70 L188.10,209.70 L188.30,209.70 L188.50,209.70 L188.70,209.70 L188.90,209.70 L189.10,209.70 L189.30,209.70 L189.50,209.70 L189.70,209.70 L189.90,209.70 L190.10,209.70 L190.30,209.70 L190.50,209.70 L190.70,209.70 L190.90,209.70 L191.10,209.70 L191.30,209.70 L191.50,209.70 L191.70,209.70 L191.90,209.70 L192.10,209.70 L192.30,209.70 L192.50,209.70 L192.70,209.70 L192.90,209.70 L193.10,209.70 L193.30,209.70 L193.50,209.70 L193.70,209.70 L193.90,209.70 L194.10,209.70 L194.30,209.70 L194.50,209.70 L194.70,209.70 L194.90,209.70 L195.10,209.70 L195.30,209.70 L195.50,209.70 L195.70,209.70 L195.90,209.70 L196.10,209.70 L196.30,209.70 L196.50,209.70 L196.70,209.70 L196.90,209.70 L197.10,209.70 L197.30,209.70 L197.50,209.70 L197.70,209.70 L197.90,209.70 L198.10,209.70 L198.30,209.70 L198.50,209.70 L198.70,209.70 L198.90,209.70 L199.10,209.70 L199.30,209.70 L199.50,209.70 L199.70,209.70 L199.90,209.70 L200.10,209.70 L200.30,209.70 L200.50,209.70 L200.70,209.70 L200.90,209.70 L201.10,209.70 L201.30,209.70 L201.50,209.70 L201.70,209.70 L201.90,209.70 L202.10,209.70 L202.30,209.70 L202.50,209.70 L202.70,209.70 L202.90,209.70 L203.10,209.70 L203.30,209.70 L203.50,209.70 L203.70,209.70 L203.90,209.70 L204.10,209.70 L204.30,209.70 L204.50,209.70 L204.70,209.70 L204.90,209.70 L205.10,209.70 L205.30,209.70 L205.50,209.70 L205.70,209.70 L205.90,209.70 L206.10,209.70 L206.30,209.69 L206.50,209.69 L206.70,209.68 L206.90,209.67 L207.10,209.65 L207.30,209.62 L207.50,209.58 L207.70,209.51 L207.90,209.40 L208.10,209.25 L208.30,209.03 L208.50,208.71 L208.70,208.25 L208.90,207.62 L209.10,206.83 L209.30,205.77 L209.50,204.37 L209.70,202.54 L209.90,200.19 L210.10,197.23 L210.30,193.55 L210.50,189.07 L210.70,183.68 L210.90,177.34 L211.10,170.00 L211.30,161.67 L211.50,152.41 L211.70,142.30 L211.90,131.52 L212.10,120.28 L212.30,108.85 L212.50,97.57 L212.70,86.77 L212.90,76.82 L213.10,68.08 L213.30,60.89 L213.50,55.53 L213.70,52.22 L213.90,51.10 L214.10,52.22 L214.30,55.53 L214.50,60.89 L214.70,68.08 L214.90,76.82 L215.10,86.77 L215.30,97.57 L215.50,108.85 L215.70,120.28 L215.90,131.52 L216.10,142.30 L216.30,152.41 L216.50,161.67 L216.70,170.00 L216.90,177.34 L217.10,183.68 L217.30,189.07 L217.50,193.55 L217.70,197.23 L217.90,200.19 L218.10,202.54 L218.30,204.37 L218.50,205.77 L218.70,206.83 L218.90,207.62 L219.10,208.25 L219.30,208.71 L219.50,209.03 L219.70,209.25 L219.90,209.40 L220.10,209.51 L220.30,209.58 L220.50,209.62 L220.70,209.65 L220.90,209.67 L221.10,209.68 L221.30,209.69 L221.50,209.69 L221.70,209.70 L221.90,209.70 L222.10,209.70 L222.30,209.70 L222.50,209.70 L222.70,209.70 L222.90,209.70 L223.10,209.70 L223.30,209.70 L223.50,209.70 L223.70,209.70 L223.90,209.70 L224.10,209.70 L224.30,209.70 L224.50,209.70 L224.70,209.70 L224.90,209.70 L225.10,209.70 L225.30,209.70 L225.50,209.70 L225.70,209.70 L225.90,209.69 L226.10,209.69 L226.30,209.69 L226.50,209.68 L226.70,209.66 L226.90,209.63 L227.10,209.60 L227.30,209.54 L227.50,209.44 L227.70,209.31 L227.90,209.11 L228.10,208.82 L228.30,208.41 L228.50,207.84 L228.70,207.09 L228.90,206.12 L229.10,204.81 L229.30,203.10 L229.50,200.88 L229.70,198.05 L229.90,194.52 L230.10,190.16 L230.30,184.89 L230.50,178.63 L230.70,171.32 L230.90,162.94 L231.10,153.52 L231.30,143.14 L231.50,131.94 L231.70,120.13 L231.90,107.98 L232.10,95.79 L232.30,83.93 L232.50,72.78 L232.70,62.74 L232.90,54.18 L233.10,47.44 L233.30,42.78 L233.50,40.40 L233.70,40.40 L233.90,42.78 L234.10,47.44 L234.30,54.19 L234.50,62.75 L234.70,72.79 L234.90,83.93 L235.10,95.79 L235.30,107.98 L235.50,120.14 L235.70,131.95 L235.90,143.14 L236.10,153.52 L236.30,162.94 L236.50,171.32 L236.70,178.64 L236.90,184.90 L237.10,190.17 L237.30,194.52 L237.50,198.06 L237.70,200.89 L237.90,203.11 L238.10,204.82 L238.30,206.12 L238.50,207.10 L238.70,207.85 L238.90,208.42 L239.10,208.83 L239.30,209.12 L239.50,209.32 L239.70,209.45 L239.90,209.54 L240.10,209.60 L240.30,209.64 L240.50,209.67 L240.70,209.68 L240.90,209.69 L241.10,209.70 L241.30,209.70 L241.50,209.70 L241.70,209.70 L241.90,209.69 L242.10,209.68 L242.30,209.66 L242.50,209.62 L242.70,209.58 L242.90,209.50 L243.10,209.39 L243.30,209.22 L243.50,208.98 L243.70,208.63 L243.90,208.14 L244.10,207.46 L244.30,206.61 L244.50,205.46 L244.70,203.94 L244.90,201.96 L245.10,199.41 L245.30,196.19 L245.50,192.20 L245.70,187.33 L245.90,181.49 L246.10,174.61 L246.30,166.64 L246.50,157.60 L246.70,147.54 L246.90,136.58 L247.10,124.87 L247.30,112.68 L247.50,100.28 L247.70,88.03 L247.90,76.31 L248.10,65.51 L248.30,56.03 L248.50,48.22 L248.70,42.40 L248.90,38.81 L249.10,37.60 L249.30,38.82 L249.50,42.41 L249.70,48.23 L249.90,56.05 L250.10,65.54 L250.30,76.35 L250.50,88.09 L250.70,100.36 L250.90,112.77 L251.10,124.98 L251.30,136.70 L251.50,147.68 L251.70,157.75 L251.90,166.80 L252.10,174.77 L252.30,181.66 L252.50,187.51 L252.70,192.39 L252.90,196.39 L253.10,199.60 L253.30,202.15 L253.50,204.14 L253.70,205.66 L253.90,206.81 L254.10,207.68 L254.30,208.36 L254.50,208.85 L254.70,209.19 L254.90,209.42 L255.10,209.58 L255.30,209.66 L255.50,209.70 L255.70,209.69 L255.90,209.63 L256.10,209.51 L256.30,209.33 L256.50,209.05 L256.70,208.64 L256.90,208.07 L257.10,207.30 L257.30,206.33 L257.50,205.02 L257.70,203.31 L257.90,201.09 L258.10,198.27 L258.30,194.73 L258.50,190.37 L258.70,185.10 L258.90,178.84 L259.10,171.53 L259.30,163.15 L259.50,153.73 L259.70,143.35 L259.90,132.15 L260.10,120.34 L260.30,108.18 L260.50,95.99 L260.70,84.13 L260.90,72.99 L261.10,62.95 L261.30,54.39 L261.50,47.64 L261.70,42.98 L261.90,40.60 L262.10,40.60 L262.30,43.00 L262.50,47.69 L262.70,54.48 L262.90,63.09 L263.10,73.20 L263.30,84.42 L263.50,96.36 L263.70,108.62 L263.90,120.86 L264.10,132.75 L264.30,144.02 L264.50,154.47 L264.70,163.95 L264.90,172.38 L265.10,179.74 L265.30,186.05 L265.50,191.35 L265.70,195.73 L265.90,199.28 L266.10,202.12 L266.30,204.34 L266.50,206.04 L266.70,207.32 L266.90,208.32 L267.10,209.02 L267.30,209.46 L267.50,209.67 L267.70,209.67 L267.90,209.47 L268.10,209.03 L268.30,208.34 L268.50,207.35 L268.70,206.09 L268.90,204.42 L269.10,202.23 L269.30,199.44 L269.50,195.94 L269.70,191.63 L269.90,186.41 L270.10,180.20 L270.30,172.95 L270.50,164.65 L270.70,155.31 L270.90,145.02 L271.10,133.93 L271.30,122.22 L271.50,110.18 L271.70,98.09 L271.90,86.34 L272.10,75.29 L272.30,65.34 L272.50,56.86 L272.70,50.17 L272.90,45.56 L273.10,43.20 L273.30,43.20 L273.50,45.59 L273.70,50.26 L273.90,57.03 L274.10,65.62 L274.30,75.69 L274.50,86.87 L274.70,98.77 L274.90,111.00 L275.10,123.19 L275.30,135.04 L275.50,146.27 L275.70,156.68 L275.90,166.13 L276.10,174.52 L276.30,181.85 L276.50,188.11 L276.70,193.36 L276.90,197.67 L277.10,201.14 L277.30,203.85 L277.50,205.89 L277.70,207.35 L277.90,208.37 L278.10,208.87 L278.30,208.87 L278.50,208.37 L278.70,207.37 L278.90,205.93 L279.10,203.91 L279.30,201.24 L279.50,197.82 L279.70,193.56 L279.90,188.38 L280.10,182.20 L280.30,174.98 L280.50,166.69 L280.70,157.37 L280.90,147.10 L281.10,136.02 L281.30,124.33 L281.50,112.30 L281.70,100.23 L281.90,88.49 L282.10,77.46 L282.30,67.52 L282.50,59.04 L282.70,52.37 L282.90,47.75 L283.10,45.40 L283.30,45.41 L283.50,47.84 L283.70,52.62 L283.90,59.53 L284.10,68.30 L284.30,78.58 L284.50,89.99 L284.70,102.14 L284.90,114.61 L285.10,127.05 L285.30,139.13 L285.50,150.56 L285.70,161.14 L285.90,170.70 L286.10,179.16 L286.30,186.47 L286.50,192.62 L286.70,197.63 L286.90,201.56 L287.10,204.45 L287.30,206.35 L287.50,207.28 L287.70,207.29 L287.90,206.38 L288.10,204.54 L288.30,201.75 L288.50,197.95 L288.70,193.09 L288.90,187.14 L289.10,180.07 L289.30,171.88 L289.50,162.62 L289.70,152.38 L289.90,141.32 L290.10,129.63 L290.30,117.59 L290.50,105.51 L290.70,93.75 L290.90,82.71 L291.10,72.75 L291.30,64.27 L291.50,57.58 L291.70,52.96 L291.90,50.60 L292.10,50.60 L292.30,52.99 L292.50,57.67 L292.70,64.44 L292.90,73.04 L293.10,83.11 L293.30,94.28 L293.50,106.16 L293.70,118.34 L293.90,130.46 L294.10,142.17 L294.30,153.21 L294.50,163.33 L294.70,172.35 L294.90,180.16 L295.10,186.66 L295.30,191.82 L295.50,195.61 L295.70,198.02 L295.90,199.06 L296.10,198.72 L296.30,197.05 L296.50,194.03 L296.70,189.68 L296.90,184.00 L297.10,177.04 L297.30,168.84 L297.50,159.52 L297.70,149.21 L297.90,138.11 L298.10,126.49 L298.30,114.63 L298.50,102.88 L298.70,91.63 L298.90,81.25 L299.10,72.13 L299.30,64.62 L299.50,59.02 L299.70,55.57 L299.90,54.40 L300.10,55.70 L300.30,59.56 L300.50,65.80 L300.70,74.16 L300.90,84.28 L301.10,95.75 L301.30,108.11 L301.50,120.91 L301.70,133.68 L301.90,145.98 L302.10,157.43 L302.30,167.67 L302.50,176.42 L302.70,183.46 L302.90,188.61 L303.10,191.75 L303.30,192.80 L303.50,191.77 L303.70,188.70 L303.90,183.65 L304.10,176.76 L304.30,168.18 L304.50,158.14 L304.70,146.93 L304.90,134.87 L305.10,122.37 L305.30,109.83 L305.50,97.71 L305.70,86.47 L305.90,76.56 L306.10,68.37 L306.30,62.26 L306.50,58.48 L306.70,57.20 L306.90,58.42 L307.10,62.04 L307.30,67.89 L307.50,75.72 L307.70,85.19 L307.90,95.91 L308.10,107.43 L308.30,119.32 L308.50,131.12 L308.70,142.41 L308.90,152.81 L309.10,162.00 L309.30,169.68 L309.50,175.63 L309.70,179.69 L309.90,181.74 L310.10,181.75 L310.30,179.75 L310.50,175.81 L310.70,170.02 L310.90,162.56 L311.10,153.63 L311.30,143.52 L311.50,132.54 L311.70,121.07 L311.90,109.52 L312.10,98.32 L312.30,87.91 L312.50,78.70 L312.70,71.09 L312.90,65.41 L313.10,61.89 L313.30,60.70 L313.50,61.77 L313.70,64.95 L313.90,70.08 L314.10,76.95 L314.30,85.26 L314.50,94.66 L314.70,104.77 L314.90,115.20 L315.10,125.55 L315.30,135.46 L315.50,144.59 L315.70,152.65 L315.90,159.39 L316.10,164.61 L316.30,168.17 L316.50,169.97 L316.70,169.98 L316.90,168.23 L317.10,164.77 L317.30,159.69 L317.50,153.15 L317.70,145.32 L317.90,136.45 L318.10,126.82 L318.30,116.76 L318.50,106.63 L318.70,96.80 L318.90,87.67 L319.10,79.59 L319.30,72.92 L319.50,67.93 L319.70,64.84 L319.90,63.80 L320.10,64.83 L320.30,67.87 L320.50,72.77 L320.70,79.31 L320.90,87.18 L321.10,96.02 L321.30,105.44 L321.50,115.03 L321.70,124.39 L321.90,133.11 L322.10,140.87 L322.30,147.34 L322.50,152.29 L322.70,155.53 L322.90,156.94 L323.10,156.49 L323.30,154.23 L323.50,150.25 L323.70,144.69 L323.90,137.77 L324.10,129.76 L324.30,120.96 L324.50,111.75 L324.70,102.50 L324.90,93.61 L325.10,85.48 L325.30,78.46 L325.50,72.90 L325.70,69.03 L325.90,67.05 L326.10,67.05 L326.30,69.03 L326.50,72.90 L326.70,78.44 L326.90,85.39 L327.10,93.38 L327.30,102.03 L327.50,110.89 L327.70,119.56 L327.90,127.60 L328.10,134.65 L328.30,140.37 L328.50,144.50 L328.70,146.86 L328.90,147.34 L329.10,145.99 L329.30,142.89 L329.50,138.19 L329.70,132.09 L329.90,124.89 L330.10,116.91 L330.30,108.54 L330.50,100.18 L330.70,92.23 L330.90,85.10 L331.10,79.13 L331.30,74.64 L331.50,71.85 L331.70,70.90 L331.90,71.81 L332.10,74.50 L332.30,78.80 L332.50,84.49 L332.70,91.25 L332.90,98.71 L333.10,106.46 L333.30,114.08 L333.50,121.16 L333.70,127.34 L333.90,132.27 L334.10,135.71 L334.30,137.48 L334.50,137.49 L334.70,135.78 L334.90,132.47 L335.10,127.71 L335.30,121.76 L335.50,114.93 L335.70,107.58 L335.90,100.11 L336.10,92.92 L336.30,86.41 L336.50,80.92 L336.70,76.77 L336.90,74.18 L337.10,73.30 L337.30,74.17 L337.50,76.74 L337.70,80.83 L337.90,86.18 L338.10,92.47 L338.30,99.28 L338.50,106.20 L338.70,112.78 L338.90,118.62 L339.10,123.34 L339.30,126.67 L339.50,128.38 L339.70,128.39 L339.90,126.73 L340.10,123.51 L340.30,118.94 L340.50,113.29 L340.70,106.93 L340.90,100.24 L341.10,93.64 L341.30,87.56 L341.50,82.38 L341.70,78.42 L341.90,75.94 L342.10,75.10 L342.30,75.81 L342.50,77.88 L342.70,81.18 L342.90,85.51 L343.10,90.59 L343.30,96.10 L343.50,101.69 L343.70,107.01 L343.90,111.73 L344.10,115.55 L344.30,118.24 L344.50,119.62 L344.70,119.63 L344.90,118.30 L345.10,115.71 L345.30,112.04 L345.50,107.50 L345.70,102.38 L345.90,97.00 L346.10,91.70 L346.30,86.82 L346.50,82.65 L346.70,79.47 L346.90,77.48 L347.10,76.80 L347.30,77.41 L347.50,79.18 L347.70,82.01 L347.90,85.69 L348.10,89.98 L348.30,94.58 L348.50,99.17 L348.70,103.44 L348.90,107.11 L349.10,109.93 L349.30,111.70 L349.50,112.30 L349.70,111.71 L349.90,109.98 L350.10,107.23 L350.30,103.64 L350.50,99.46 L350.70,94.97 L350.90,90.48 L351.10,86.29 L351.30,82.69 L351.50,79.93 L351.70,78.19 L351.90,77.60 L352.10,78.09 L352.30,79.54 L352.50,81.84 L352.70,84.83 L352.90,88.29 L353.10,91.98 L353.30,95.63 L353.50,98.99 L353.70,101.82 L353.90,103.91 L354.10,105.12 L354.30,105.37 L354.50,104.65 L354.70,103.01 L354.90,100.57 L355.10,97.51 L355.30,94.03 L355.50,90.40 L355.70,86.86 L355.90,83.66 L356.10,81.04 L356.30,79.19 L356.50,78.22 L356.70,78.21 L356.90,79.10 L357.10,80.81 L357.30,83.18 L357.50,86.02 L357.70,89.09 L357.90,92.12 L358.10,94.87 L358.30,97.09 L358.50,98.60 L358.70,99.27 L358.90,99.05 L359.10,97.96 L359.30,96.09 L359.50,93.60 L359.70,90.71 L359.90,87.65 L360.10,84.70 L360.30,82.08 L360.50,80.04 L360.70,78.75 L360.90,78.30 L361.10,78.59 L361.30,79.44 L361.50,80.78 L361.70,82.52 L361.90,84.50 L362.10,86.59 L362.30,88.61 L362.50,90.42 L362.70,91.87 L362.90,92.85 L363.10,93.28 L363.30,93.13 L363.50,92.41 L363.70,91.17 L363.90,89.50 L364.10,87.54 L364.30,85.44 L364.50,83.36 L364.70,81.45 L364.90,79.88 L365.10,78.76 L365.30,78.17 L365.50,78.16 L365.70,78.59 L365.90,79.43 L366.10,80.59 L366.30,81.99 L366.50,83.49 L366.70,84.98 L366.90,86.33" stroke="#00f"/>
</g>
<path d="M115.2,42H149.8" stroke="#f00" stroke-width="0.88" fill="none"/>
<path d="M115.2,61H149.8" stroke="#00f" stroke-width="0.88" fill="none"/>
<path d="M71.5,7.0H367.0V209.5H71.5ZM71.50,209.5v-4.2M71.50,7.0v4.2M96.12,209.5v-4.2M96.12,7.0v4.2M120.75,209.5v-4.2M120.75,7.0v4.2M145.38,209.5v-4.2M145.38,7.0v4.2M170.00,209.5v-4.2M170.00,7.0v4.2M194.62,209.5v-4.2M194.62,7.0v4.2M219.25,209.5v-4.2M219.25,7.0v4.2M243.88,209.5v-4.2M243.88,7.0v4.2M268.50,209.5v-4.2M268.50,7.0v4.2M293.12,209.5v-4.2M293.12,7.0v4.2M317.75,209.5v-4.2M317.75,7.0v4.2M342.38,209.5v-4.2M342.38,7.0v4.2M367.00,209.5v-4.2M367.00,7.0v4.2M71.5,209.50h4.2M71.5,184.19h4.2M71.5,158.88h4.2M71.5,133.56h4.2M71.5,108.25h4.2M71.5,82.94h4.2M71.5,57.62h4.2M71.5,32.31h4.2M71.5,7.00h4.2" stroke="#000" stroke-width="0.9" fill="none"/>
<g font-family="'Liberation Serif', serif" font-size="14.7px" fill="#222" filter="url(#idf)">
<text transform="translate(63.8,213.80) scale(1.0,1)" text-anchor="end">0</text>
<text transform="translate(63.8,188.49) scale(1.0,1)" text-anchor="end">10</text>
<text transform="translate(63.8,163.18) scale(1.0,1)" text-anchor="end">20</text>
<text transform="translate(63.8,137.86) scale(1.0,1)" text-anchor="end">30</text>
<text transform="translate(63.8,112.55) scale(1.0,1)" text-anchor="end">40</text>
<text transform="translate(63.8,87.24) scale(1.0,1)" text-anchor="end">50</text>
<text transform="translate(63.8,61.92) scale(1.0,1)" text-anchor="end">60</text>
<text transform="translate(63.8,36.61) scale(1.0,1)" text-anchor="end">70</text>
<text transform="translate(63.8,11.30) scale(1.0,1)" text-anchor="end">80</text>
<text transform="translate(71.00,226.3) scale(1.0,1)" text-anchor="middle">-6</text>
<text transform="translate(95.62,226.3) scale(1.0,1)" text-anchor="middle">-5</text>
<text transform="translate(120.25,226.3) scale(1.0,1)" text-anchor="middle">-4</text>
<text transform="translate(144.88,226.3) scale(1.0,1)" text-anchor="middle">-3</text>
<text transform="translate(169.50,226.3) scale(1.0,1)" text-anchor="middle">-2</text>
<text transform="translate(194.12,226.3) scale(1.0,1)" text-anchor="middle">-1</text>
<text transform="translate(221.75,226.3) scale(1.0,1)" text-anchor="middle">0</text>
<text transform="translate(246.38,226.3) scale(1.0,1)" text-anchor="middle">1</text>
<text transform="translate(271.00,226.3) scale(1.0,1)" text-anchor="middle">2</text>
<text transform="translate(295.62,226.3) scale(1.0,1)" text-anchor="middle">3</text>
<text transform="translate(320.25,226.3) scale(1.0,1)" text-anchor="middle">4</text>
<text transform="translate(344.88,226.3) scale(1.0,1)" text-anchor="middle">5</text>
<text transform="translate(369.50,226.3) scale(1.0,1)" text-anchor="middle">6</text>
<text transform="translate(220.0,245.5) scale(1.2,1)" text-anchor="middle" font-style="italic" font-size="15.6px">E</text>
<g transform="translate(31.4,136.3) rotate(-90)">
<path d="M1.6,-0.9 Q2.6,0.3 3.4,-1.6 L7.2,-11.1" stroke="#111" stroke-width="0.7" fill="none" stroke-linecap="round"/>
<path d="M7.2,-11.1 L11.6,0.2" stroke="#111" stroke-width="1.3" fill="none" stroke-linecap="round"/>
<path d="M11.6,0.2 L15.4,-10.6 Q16,-12.2 17.6,-12.3" stroke="#111" stroke-width="0.7" fill="none" stroke-linecap="round"/>
<circle cx="1.9" cy="-0.7" r="0.8" fill="#111"/>
<text x="18.0" y="0.9" font-size="16.6px">(</text>
<text transform="translate(24.3,0) scale(1.1,1)" font-style="italic">E</text>
<text x="36.1" y="0">,</text>
<text transform="translate(40.9,0) scale(0.92,1)">0</text>
<text x="47.6" y="0.9" font-size="16.6px">)</text>
</g>
<text transform="translate(77.8,45.7) scale(1.2,1.04)" font-style="italic" font-size="15px">s</text>
<path d="M90,40.1h9.3M90,43.300000000000004h9.3" stroke="#000" stroke-width="0.6" fill="none"/>
<path d="M104.4,48.300000000000004V34.900000000000006M102,38.300000000000004Q104,37.1 104.4,34.900000000000006Q104.8,37.1 106.8,38.300000000000004" stroke="#000" stroke-width="0.6" fill="none"/>
<text transform="translate(77.8,64.7) scale(1.2,1.04)" font-style="italic" font-size="15px">s</text>
<path d="M90,59.1h9.3M90,62.300000000000004h9.3" stroke="#000" stroke-width="0.6" fill="none"/>
<path d="M104.4,53.900000000000006V67.3M102,63.900000000000006Q104,65.10000000000001 104.4,67.3Q104.8,65.10000000000001 106.8,63.900000000000006" stroke="#000" stroke-width="0.6" fill="none"/>
</g>
</svg>
</body></html>
